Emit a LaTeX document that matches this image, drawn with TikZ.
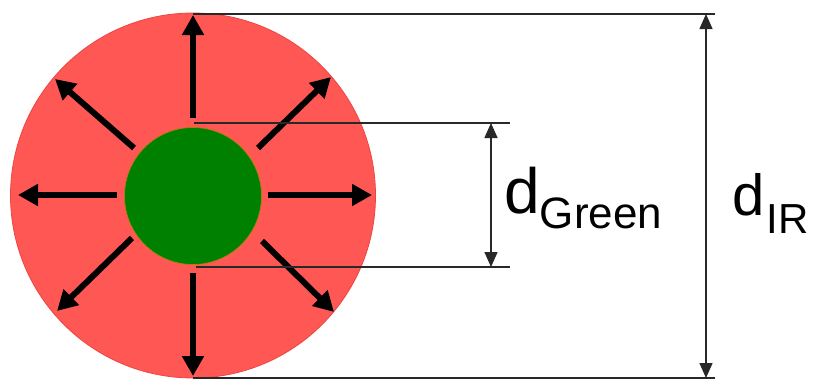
\documentclass[tikz,border=0pt]{standalone}
\usepackage{fontspec}
\setmainfont{Liberation Sans}
\usetikzlibrary{arrows.meta}
\definecolor{irred}{RGB}{255,88,84}
\definecolor{iredge}{RGB}{235,70,66}
\definecolor{grn}{RGB}{0,128,0}
\definecolor{dimgray}{RGB}{40,40,40}
\tikzset{
  ray/.style={line width=6pt, black, -{Triangle[length=20pt,width=21pt]}},
  dimline/.style={line width=1.5pt, dimgray},
  dimarrow/.style={line width=1.5pt, dimgray, {Triangle[length=15pt,width=13pt]}-{Triangle[length=15pt,width=13pt]}},
  lbl/.style={inner sep=0pt, anchor=base west, text=black}
}
\begin{document}
\begin{tikzpicture}[x=1pt,y=-1pt]
\useasboundingbox (0,0) rectangle (815,381);
% circles
\node[circle, draw=iredge, line width=0.8pt, fill=irred, minimum size=365pt, inner sep=0pt] (ir) at (193,195.5) {};
\node[circle, draw=orange!70!grn, line width=0.6pt, fill=grn, minimum size=137pt, inner sep=0pt] (gr) at (193,196) {};
% ray coordinates
\coordinate (nS) at (193,118);  \coordinate (nT) at (193,15);
\coordinate (sS) at (193,273);  \coordinate (sT) at (193,376);
\coordinate (wS) at (117,195);  \coordinate (wT) at (18,195);
\coordinate (eS) at (268,195);  \coordinate (eT) at (372,195);
\coordinate (neS) at (258,148); \coordinate (neT) at (331,77);
\coordinate (nwS) at (134,148); \coordinate (nwT) at (55,79);
\coordinate (seS) at (262,241); \coordinate (seT) at (334,312);
\coordinate (swS) at (132,238); \coordinate (swT) at (57,311);
\foreach \d in {n,s,w,e,ne,nw,se,sw} \draw[ray] (\d S) -- (\d T);
% dimension lines
\coordinate (tl) at (193,14);  \coordinate (tr) at (715,14);
\coordinate (bl) at (193,378); \coordinate (br) at (715,378);
\coordinate (gtl) at (194,123); \coordinate (gtr) at (510,123);
\coordinate (gbl) at (196,267); \coordinate (gbr) at (510,267);
\draw[dimline] (tl) -- (tr);
\draw[dimline] (bl) -- (br);
\draw[dimline] (gtl) -- (gtr);
\draw[dimline] (gbl) -- (gbr);
\coordinate (ga) at (491,123); \coordinate (gb) at (491,267);
\coordinate (ia) at (706,14);  \coordinate (ib) at (706,378);
\draw[dimarrow] (ga) -- (gb);
\draw[dimarrow] (ia) -- (ib);
% labels
\node[lbl] (lg) at (504,213) {\fontsize{64}{64}\selectfont d\fontsize{44}{44}\selectfont\raisebox{-15pt}{Green}};
\node[lbl] (li) at (732,215) {\fontsize{58}{58}\selectfont d\kern2pt\fontsize{42}{42}\selectfont\raisebox{-18pt}{IR}};
\end{tikzpicture}
\end{document}
